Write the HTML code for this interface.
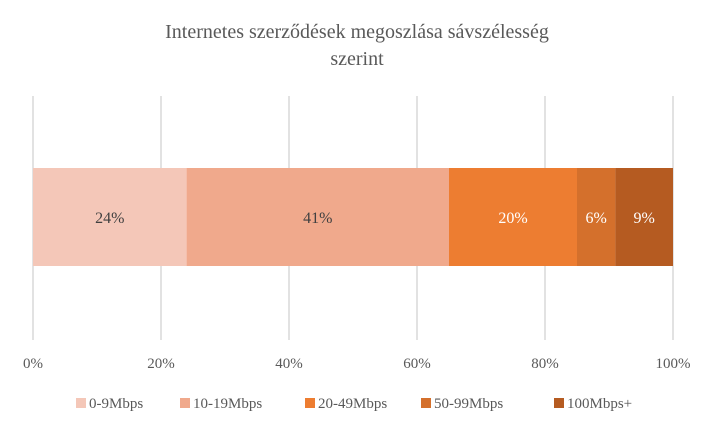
<!DOCTYPE html>
<html><head><meta charset="utf-8"><style>
body{margin:0;background:#fff;width:715px;height:430px;overflow:hidden;font-family:"Liberation Serif",serif;}
</style></head><body>
<svg width="715" height="430">
<text x="357" y="38" text-anchor="middle" font-size="20" fill="#595959">Internetes szerződések megoszlása sávszélesség</text>
<text x="357" y="65" text-anchor="middle" font-size="20" fill="#595959">szerint</text>
<g id="grid"></g><g id="bars"></g><g id="ticks"></g><g id="legend"></g>
</svg>
<script>
const categories=["0-9Mbps","10-19Mbps","20-49Mbps","50-99Mbps","100Mbps+"];
const values=[24,41,20,6,9];
const colors=["#F4C7B8","#F0A98C","#ED7D31","#D4702C","#B55B21"];
const labelColors=["#404040","#404040","#fff","#fff","#fff"];
const tickValues=[0,20,40,60,80,100];
const x0=33,x1=673,yTop=96,yBot=340,barY=168,barH=98;
const sx=v=>x0+(x1-x0)*v/100;
const ns="http://www.w3.org/2000/svg";
function mk(t,a,p){const e=document.createElementNS(ns,t);for(const k in a)e.setAttribute(k,a[k]);p.appendChild(e);return e;}
const g=document.getElementById('grid'),b=document.getElementById('bars'),tk=document.getElementById('ticks'),lg=document.getElementById('legend');
tickValues.forEach(v=>{
 const l=mk('line',{x1:sx(v),x2:sx(v),y1:yTop,y2:yBot,stroke:'#d9d9d9','stroke-width':1.5},g);
 
 
 const t=mk('text',{x:sx(v),y:368,'text-anchor':'middle','font-size':15,fill:'#595959'},tk);
 t.textContent=v+'%';
 
 
});
let cum=0;
values.forEach((v,i)=>{
 const r=mk('rect',{x:sx(cum),y:barY,width:sx(cum+v)-sx(cum),height:barH,fill:colors[i]},b);
 
 
 const t=mk('text',{x:(sx(cum)+sx(cum+v))/2,y:barY+barH/2+6,'text-anchor':'middle','font-size':16,fill:labelColors[i]},b);
 t.textContent=v+'%';
 
 
 cum+=v;
});
const lx=[76,180,305,421,554];
categories.forEach((c,i)=>{
 const r=mk('rect',{x:lx[i],y:398,width:10,height:10,fill:colors[i]},lg);
 
 
 const t=mk('text',{x:lx[i]+13,y:408,'font-size':15,fill:'#595959'},lg);
 t.textContent=c;
 
 
});
</script>
</body></html>
